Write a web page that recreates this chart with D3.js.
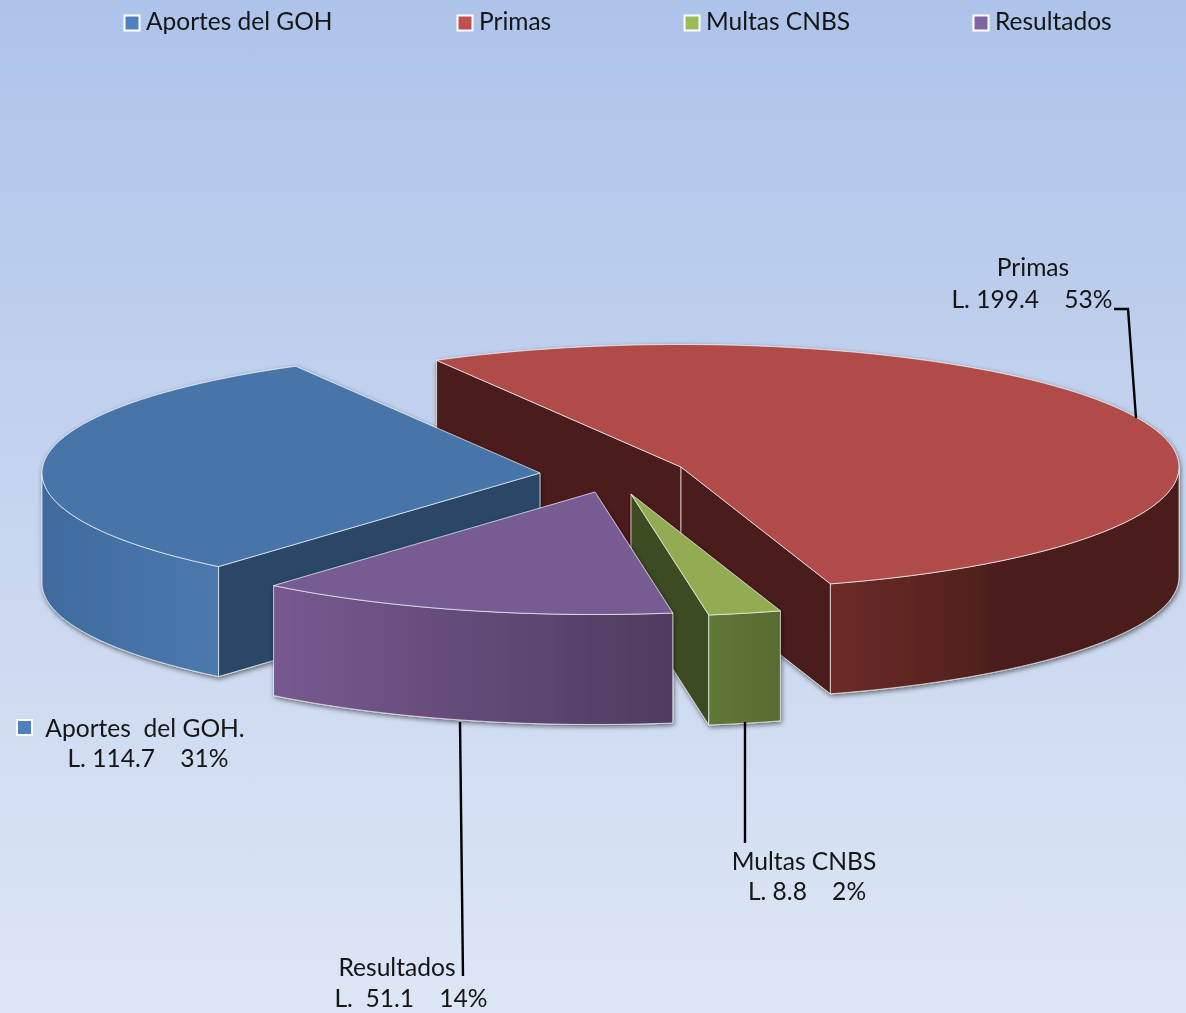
<!DOCTYPE html>
<html>
<head>
<meta charset="utf-8">
<script src="https://cdn.jsdelivr.net/npm/d3@7"></script>
<style>
  html, body { margin: 0; padding: 0; background: #dce6f5; }
  svg { display: block; }
  text { font-family: Lato, "Open Sans", sans-serif; fill: #141414; white-space: pre; filter: url(#soft); }
</style>
</head>
<body>
<div id="chart"></div>
<script>
(function() {
  // data
  var categories = ["Aportes del GOH", "Primas", "Multas CNBS", "Resultados"];
  var values = [114.7, 199.4, 8.8, 51.1];
  var percents = [31, 53, 2, 14];

  var width = 1186, height = 1013;
  var rx = 498, ry = 122.5, depth = 110;
  var startDeg = 220.2;

  // where each exploded slice sits
  var centers = [[540, 473], [681, 467], [631, 494], [595, 492]];
  var drawOrder = [1, 0, 2, 3];

  var topColors = ["#4675aa", "#b14b48", "#91ac52", "#775b94"];
  var cutColors = ["#2b4667", "#4c1e1d", "#3e4c24", "#4c3a5e"];
  var wallFrom = ["#3f6b9f", "#6d2b28", "#617736", "#77598f"];
  var wallTo = ["#4a79af", "#4b1e1c", "#576c30", "#4f3b60"];
  var wallEnd = ["100%", "50%", "100%", "100%"];
  var legendColors = ["#4f81bd", "#c0504d", "#9bbb59", "#8064a2"];

  var svg = d3.select("#chart")
    .append("svg")
    .attr("width", width)
    .attr("height", height);

  var defs = svg.append("defs");

  var bg = defs.append("linearGradient")
    .attr("id", "bg")
    .attr("x1", 0).attr("y1", 0).attr("x2", 0).attr("y2", 1);
  bg.append("stop").attr("offset", "0%").attr("stop-color", "#adc3e9");
  bg.append("stop").attr("offset", "45%").attr("stop-color", "#c4d3ee");
  bg.append("stop").attr("offset", "100%").attr("stop-color", "#dde6f5");

  var shadow = defs.append("filter")
    .attr("id", "shadow")
    .attr("x", "-10%").attr("y", "-10%").attr("width", "120%").attr("height", "120%");
  shadow.append("feDropShadow")
    .attr("dx", 1).attr("dy", 2)
    .attr("stdDeviation", 2.5)
    .attr("flood-color", "#000")
    .attr("flood-opacity", 0.55);

  // the text in the reference is slightly soft
  defs.append("filter")
    .attr("id", "soft")
    .append("feGaussianBlur")
    .attr("stdDeviation", 0.35);

  categories.forEach(function(c, i) {
    var g = defs.append("linearGradient")
      .attr("id", "wall" + i)
      .attr("x1", 0).attr("y1", 0).attr("x2", 1).attr("y2", 0);
    g.append("stop").attr("offset", "0%").attr("stop-color", wallFrom[i]);
    g.append("stop").attr("offset", wallEnd[i]).attr("stop-color", wallTo[i]);
  });

  svg.append("rect")
    .attr("width", width)
    .attr("height", height)
    .attr("fill", "url(#bg)");

  var toRad = Math.PI / 180;
  var pie = d3.pie()
    .sort(null)
    .startAngle(startDeg * toRad)
    .endAngle((startDeg + 360) * toRad);
  var arcs = pie(values);

  var xs = d3.scaleLinear().domain([-1, 1]).range([-rx, rx]);
  var ys = d3.scaleLinear().domain([-1, 1]).range([-ry, ry]);
  var line = d3.line();

  function point(i, a, drop) {
    return [
      centers[i][0] + xs(Math.sin(a)),
      centers[i][1] - ys(Math.cos(a)) + (drop || 0)
    ];
  }

  // points along the rim between two angles
  function rim(i, a0, a1, drop) {
    var n = Math.max(2, Math.ceil((a1 - a0) / (toRad * 2)));
    return d3.range(n + 1).map(function(k) {
      return point(i, a0 + (a1 - a0) * k / n, drop);
    });
  }

  function drawSlice(i) {
    var d = arcs[i];
    var c = centers[i];
    var g = svg.append("g").attr("filter", "url(#shadow)");
    var edge = "rgba(255,255,255,0.65)";

    // cut faces, only the ones turned towards the viewer
    var cuts = [];
    if (Math.sin(d.startAngle) < 0) cuts.push(d.startAngle);
    if (Math.sin(d.endAngle) > 0) cuts.push(d.endAngle);
    cuts.forEach(function(a) {
      var p = point(i, a), q = point(i, a, depth);
      g.append("path")
        .attr("d", line([c, p, q, [c[0], c[1] + depth]]) + "Z")
        .attr("fill", cutColors[i])
        .attr("stroke", edge)
        .attr("stroke-width", 1);
    });

    // outer wall on the front half of the ellipse
    [90, 450].forEach(function(k) {
      var a0 = Math.max(d.startAngle, k * toRad);
      var a1 = Math.min(d.endAngle, (k + 180) * toRad);
      if (a1 <= a0) return;
      var pts = rim(i, a0, a1).concat(rim(i, a0, a1, depth).reverse());
      g.append("path")
        .attr("d", line(pts) + "Z")
        .attr("fill", "url(#wall" + i + ")")
        .attr("stroke", edge)
        .attr("stroke-width", 1);
    });

    // top
    g.append("path")
      .attr("d", line([c].concat(rim(i, d.startAngle, d.endAngle))) + "Z")
      .attr("fill", topColors[i])
      .attr("stroke", edge)
      .attr("stroke-width", 1);
  }

  drawOrder.forEach(drawSlice);

  // leader lines
  var leaders = [
    [[1114, 309], [1128, 309], [1136, 418]],
    [[745, 722], [745, 843]],
    [[460, 722], [463, 976]]
  ];
  svg.selectAll("path.leader")
    .data(leaders)
    .enter()
    .append("path")
    .attr("class", "leader")
    .attr("d", line)
    .attr("fill", "none")
    .attr("stroke", "#000")
    .attr("stroke-width", 2.4);

  // legend
  var legendX = [124, 457, 684, 973];
  var legend = svg.selectAll("g.legend")
    .data(categories)
    .enter()
    .append("g")
    .attr("class", "legend")
    .attr("transform", function(d, i) { return "translate(" + legendX[i] + ",15)"; });
  legend.append("rect")
    .attr("x", 0.5).attr("y", 0.5)
    .attr("width", 15).attr("height", 15)
    .attr("fill", function(d, i) { return legendColors[i]; })
    .attr("stroke", "#fff")
    .attr("stroke-width", 2);
  legend.append("text")
    .attr("x", 22)
    .attr("y", 15)
    .style("font-size", "24.5px")
    .text(function(d) { return d; });

  function amount(i, gap) {
    return "L." + gap + values[i].toFixed(1) + "    " + percents[i] + "%";
  }

  // data labels
  var labels = [
    { t: "Aportes  del GOH.", x: 145, y: 737 },
    { t: amount(0, " "), x: 148, y: 767 },
    { t: categories[1], x: 1033, y: 276 },
    { t: amount(1, " "), x: 1032, y: 308 },
    { t: categories[2], x: 804, y: 870 },
    { t: amount(2, " "), x: 807, y: 900 },
    { t: categories[3], x: 397, y: 976 },
    { t: amount(3, "  "), x: 411, y: 1007 }
  ];
  svg.selectAll("text.label")
    .data(labels)
    .enter()
    .append("text")
    .attr("class", "label")
    .attr("x", function(d) { return d.x; })
    .attr("y", function(d) { return d.y; })
    .attr("text-anchor", "middle")
    .style("font-size", "24.6px")
    .text(function(d) { return d.t; });

  // small marker in front of the Aportes label
  svg.append("rect")
    .attr("x", 17).attr("y", 720)
    .attr("width", 15).attr("height", 15)
    .attr("fill", legendColors[0])
    .attr("stroke", "#fff")
    .attr("stroke-width", 2);
})();
</script>
</body>
</html>
